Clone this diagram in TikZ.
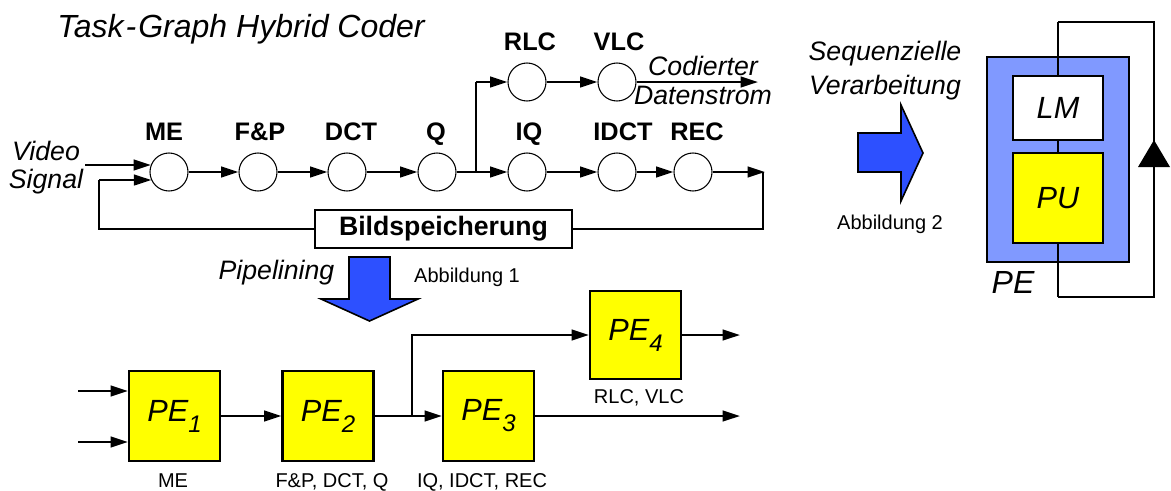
\documentclass[tikz,border=0pt]{standalone}
\usepackage{fontspec}
\setmainfont{Liberation Sans}
\usetikzlibrary{arrows.meta}
\definecolor{arrblue}{RGB}{45,80,255}
\definecolor{peblue}{RGB}{128,153,255}
\definecolor{peyellow}{RGB}{255,255,0}
\newcommand{\sub}[1]{\raisebox{-0.36em}{\fontsize{18}{18}\selectfont #1}}
\begin{document}
\begin{tikzpicture}[x=0.75pt,y=-0.75pt,
  task/.style={circle,draw,line width=0.8pt,fill=white,minimum size=28.5pt,inner sep=0pt},
  lbl/.style={font=\fontsize{19}{22}\selectfont\bfseries,anchor=base},
  itl/.style={font=\fontsize{20}{24}\selectfont\itshape,anchor=base},
  small/.style={font=\fontsize{15}{18}\selectfont,anchor=base},
  flow/.style={line width=1.7pt,-{Triangle[length=13pt,width=8pt]}},
  thinline/.style={line width=0.8pt},
  thick2/.style={line width=1.7pt},
  pebox/.style={draw,line width=1.6pt,fill=peyellow,inner sep=0pt,
     font=\fontsize{23}{27}\selectfont\itshape},
  bigarrow/.style={draw,line width=1.2pt,fill=arrblue,line join=miter}
]
\useasboundingbox (0,0) rectangle (1171,490);

% ---------- title ----------
\node[font=\fontsize{24}{28}\selectfont\itshape,anchor=base] (title) at (241,37) {Task\kern1.5pt-\kern1.5pt Graph Hybrid Coder};

% ---------- task graph ----------
\node[task] (me)   at (169,172) {};
\node[task] (fp)   at (258,172) {};
\node[task] (dct)  at (347,172) {};
\node[task] (q)    at (437,172) {};
\node[task] (iq)   at (527,172) {};
\node[task] (idct) at (617,172) {};
\node[task] (rec)  at (693,172) {};
\node[task] (rlc)  at (527,82) {};
\node[task] (vlc)  at (617,82) {};

\node[lbl] (lme)   at (164,140) {ME};
\node[lbl] (lfp)   at (260,140) {F\&P};
\node[lbl] (ldct)  at (351,140) {DCT};
\node[lbl] (lq)    at (436,140) {Q};
\node[lbl] (liq)   at (529,140) {IQ};
\node[lbl] (lidct) at (623,140) {IDCT};
\node[lbl] (lrec)  at (697,140) {REC};
\node[lbl] (lrlc)  at (530,50) {RLC};
\node[lbl] (lvlc)  at (619,50) {VLC};

\node[itl] (video)  at (46,160) {Video};
\node[itl] (signal) at (46,188) {Signal};
\node[itl] (cod)  at (703,75) {Codierter};
\node[itl] (dat)  at (703,104) {Datenstrom};

\node[draw,line width=1.6pt,fill=white,minimum width=192.75pt,minimum height=28.5pt,inner sep=0pt,
      font=\fontsize{20}{24}\selectfont\bfseries] (bsp) at (443.5,229) {Bildspeicherung};

\coordinate (vin) at (85,165);
\coordinate (fbl) at (99,180);
\coordinate (br)  at (476,172);
\coordinate (brtop) at (476,82);
\coordinate (cdout) at (758,82);
\coordinate (recout) at (765,172);
\coordinate (fbr) at (763,172);

\draw[flow] (vin) -- (vin -| me.158);
\draw[flow] (fbl) -- (fbl -| me.205);
\draw[thinline] (bsp.west) -| (fbl);
\draw[flow] (me) -- (fp);
\draw[flow] (fp) -- (dct);
\draw[flow] (dct) -- (q);
\draw[flow] (q) -- (iq);
\draw[flow] (iq) -- (idct);
\draw[flow] (idct) -- (rec);
\draw[flow] (rec) -- (recout);
\draw[thinline] (fbr) |- (bsp.east);
\draw[thinline] (br) -- (brtop);
\draw[flow] (brtop) -- (rlc);
\draw[flow] (rlc) -- (vlc);
\draw[flow] (vlc) -- (cdout);

% ---------- pipelining arrow ----------
\draw[bigarrow] (349,257) -- (390,257) -- (390,299) -- (418,299) -- (369.5,321) -- (321,299) -- (349,299) -- cycle;
\node[itl] (pip) at (276.5,279) {Pipelining};
\node[small] (abb1) at (467,282) {Abbildung 1};

% ---------- pipelined PEs ----------
\node[pebox,minimum width=68.25pt,minimum height=67.5pt] (pe1) at (174.5,416) {PE\sub{1}};
\node[pebox,minimum width=68.25pt,minimum height=67.5pt] (pe2) at (328,416) {PE\sub{2}};
\node[pebox,minimum width=68.25pt,minimum height=67.5pt] (pe3) at (488.5,416) {PE\sub{3}};
\node[pebox,minimum width=68.25pt,minimum height=66pt] (pe4) at (635.5,335) {PE\sub{4}};

\node[small] (lpe1) at (173,487) {ME};
\node[small] (lpe2) at (332,487) {F\&P, DCT, Q};
\node[small] (lpe3) at (482,487) {IQ, IDCT, REC};
\node[small] (lpe4) at (639,403) {RLC, VLC};

\coordinate (in1) at (78,391);
\coordinate (in2) at (78,442);
\coordinate (br2) at (412,416);
\coordinate (o4) at (740,335);
\coordinate (o3) at (740,416);

\draw[flow] (in1) -- (in1 -| pe1.west);
\draw[flow] (in2) -- (in2 -| pe1.west);
\draw[flow] (pe1) -- (pe2);
\draw[thick2] (pe2.east) -- (br2);
\draw[flow] (br2) -- (pe3);
\draw[flow] (br2) |- (pe4.west);
\draw[flow] (pe4) -- (o4);
\draw[flow] (pe3) -- (o3);

% ---------- sequential processing ----------
\draw[bigarrow] (858,133) -- (901,133) -- (901,105) -- (923,153) -- (901,201) -- (901,172) -- (858,172) -- cycle;
\node[itl] (seq) at (885,60) {Sequenzielle};
\node[itl] (verarb) at (885,94) {Verarbeitung};
\node[small] (abb2) at (890,229) {Abbildung 2};

\node[draw,line width=1.6pt,fill=peblue,minimum width=106.5pt,minimum height=153.75pt,inner sep=0pt] (pe) at (1058,159.5) {};
\coordinate (ltop) at (1058,22);
\coordinate (lbot) at (1058,297);
\coordinate (lrt) at (1154,22);
\coordinate (lrb) at (1154,297);
\draw[thick2] (ltop) -- (lbot);
\draw[thinline] (ltop) -- (lrt) -- (lrb) -- (lbot);
\fill (1154,140) -- (1170,167) -- (1138,167) -- cycle;
\node[draw,line width=1.6pt,fill=white,minimum width=67.5pt,minimum height=48pt,inner sep=0pt,
      font=\fontsize{23}{27}\selectfont\itshape] (lm) at (1058,108) {LM};
\node[draw,line width=1.6pt,fill=peyellow,minimum width=67.5pt,minimum height=67.5pt,inner sep=0pt,
      font=\fontsize{23}{27}\selectfont\itshape] (pu) at (1058,198) {PU};
\node[font=\fontsize{24}{28}\selectfont\itshape,anchor=base] (lpe) at (1013,293) {PE};
\end{tikzpicture}
\end{document}
